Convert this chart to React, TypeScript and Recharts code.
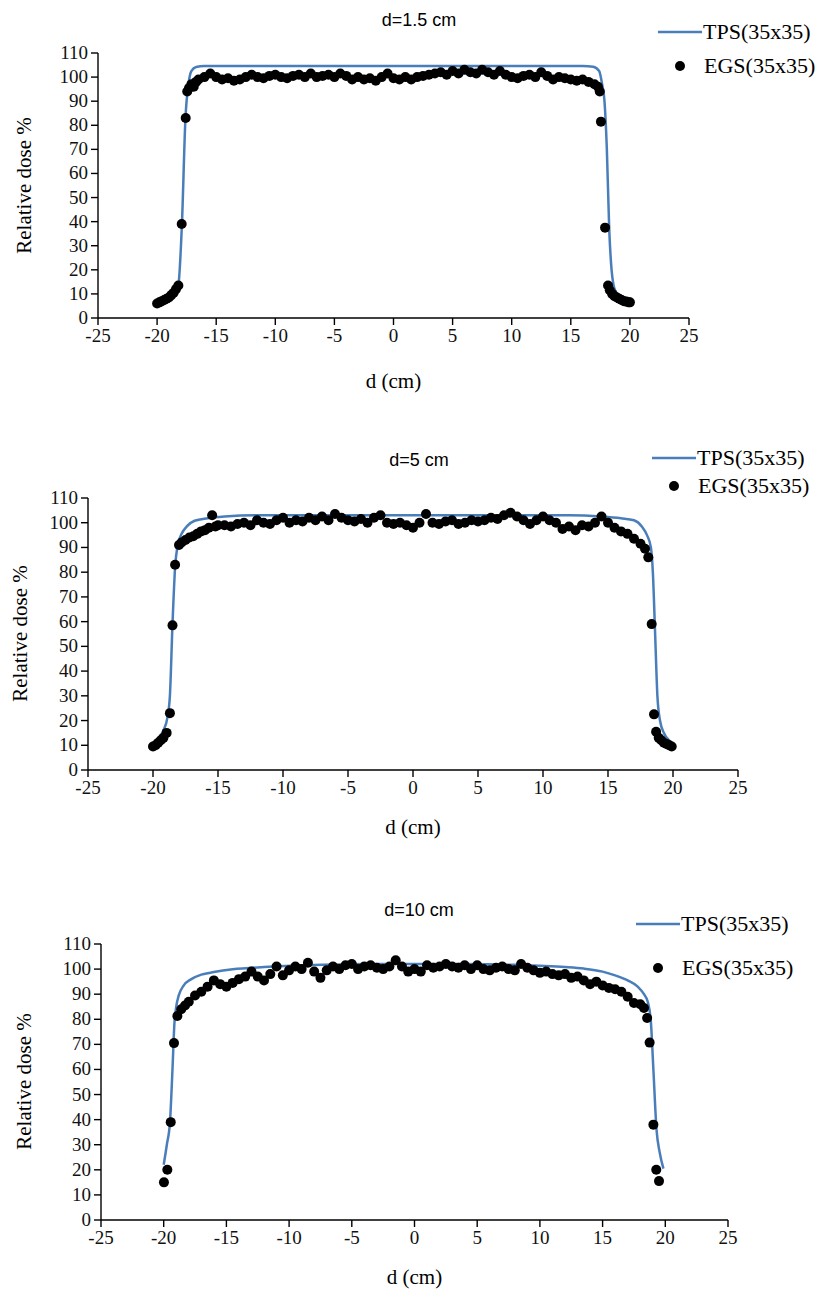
import React from 'react';
import { ComposedChart, Line, Scatter, XAxis, YAxis } from 'recharts';

const xTicks = [-25, -20, -15, -10, -5, 0, 5, 10, 15, 20, 25];
const yTicks = [0, 10, 20, 30, 40, 50, 60, 70, 80, 90, 100, 110];

// d = 1.5 cm
const tps15: [number, number][] = [
  [-18.8, 9.5], [-18.5, 11.5], [-18.2, 14], [-17.9, 39], [-17.6, 83], [-17.35, 97], [-17.1, 102.5],
  [-16.7, 104.2], [-16.0, 104.6], [16.0, 104.6], [16.9, 104.3], [17.4, 102.5], [17.65, 97],
  [17.85, 90], [18.05, 70], [18.25, 37], [18.45, 20], [18.6, 14], [18.8, 11], [19.0, 9.5],
];
const egs15: [number, number][] = [
  [-20.0, 6], [-19.8, 6.5], [-19.6, 7], [-19.4, 7.5], [-19.2, 8], [-19.0, 8.5], [-18.8, 9.5],
  [-18.6, 10.5], [-18.4, 12], [-18.2, 13.5], [-17.92, 39], [-17.58, 83], [-17.45, 94], [-17.3, 95.5],
  [-17.1, 97], [-16.9, 96], [-16.7, 98], [-16.5, 99], [-16, 100], [-15.5, 101.5], [-15, 100],
  [-14.5, 99], [-14, 99.5], [-13.5, 98.5], [-13, 99], [-12.5, 100], [-12, 101], [-11.5, 100],
  [-11, 99.5], [-10.5, 100.5], [-10, 101], [-9.5, 100], [-9, 99.5], [-8.5, 100.5], [-8, 101],
  [-7.5, 100], [-7, 101.5], [-6.5, 100], [-6, 100.5], [-5.5, 101], [-5, 100], [-4.5, 101.5],
  [-4, 100.5], [-3.5, 99], [-3, 100], [-2.5, 99], [-2, 99.5], [-1.5, 98.5], [-1, 100], [-0.5, 101.5],
  [0, 99.5], [0.5, 99], [1, 100], [1.5, 99], [2, 100], [2.5, 100.5], [3, 101], [3.5, 101.5],
  [4, 102], [4.5, 101], [5, 102.5], [5.5, 101.5], [6, 103], [6.5, 102], [7, 101.5], [7.5, 103],
  [8, 102], [8.5, 101], [9, 102.5], [9.5, 101], [10, 100], [10.5, 99.5], [11, 100.5], [11.5, 101],
  [12, 100], [12.5, 102], [13, 100.5], [13.5, 99], [14, 100], [14.5, 99.5], [15, 99], [15.5, 98.5],
  [16, 99], [16.5, 98], [17, 97], [17.3, 96], [17.45, 94], [17.55, 81.5], [17.9, 37.5], [18.15, 13.5],
  [18.3, 11.5], [18.5, 10], [18.7, 9], [18.9, 8.5], [19.1, 8], [19.3, 7.5], [19.5, 7], [19.7, 6.8],
  [19.9, 6.5], [20.0, 6.5],
];

// d = 5 cm
const tps5: [number, number][] = [
  [-20.0, 10.5], [-19.6, 12.5], [-19.2, 16], [-18.9, 21], [-18.7, 30], [-18.5, 59], [-18.3, 82],
  [-18.1, 91], [-17.8, 95.5], [-17.4, 98.5], [-16.8, 100.8], [-15.8, 101.8], [-14.5, 102.5],
  [-12, 103], [12, 103], [14.5, 102.5], [16.0, 101.8], [17.0, 101], [17.6, 98.5], [18.0, 95],
  [18.3, 90], [18.45, 80], [18.6, 59], [18.8, 30], [19.0, 20], [19.3, 15], [19.7, 12], [20.0, 10.8],
];
const egs5: [number, number][] = [
  [-20.0, 9.5], [-19.8, 10], [-19.6, 11], [-19.4, 12], [-19.2, 13], [-18.95, 15], [-18.7, 23],
  [-18.5, 58.5], [-18.3, 83], [-18.0, 91], [-17.8, 92], [-17.5, 93], [-17.2, 94], [-16.9, 94.5],
  [-16.6, 95.5], [-16.3, 96.5], [-16.0, 97], [-15.7, 98], [-15.45, 103], [-15.2, 98.5], [-15, 99],
  [-14.5, 99], [-14, 98.5], [-13.5, 99.5], [-13, 100], [-12.5, 99], [-12, 101], [-11.5, 100],
  [-11, 99.5], [-10.5, 101], [-10, 102], [-9.5, 100], [-9, 101], [-8.5, 100.5], [-8, 102],
  [-7.5, 101], [-7, 102.5], [-6.5, 101], [-6, 103.5], [-5.5, 102], [-5, 101], [-4.5, 100.5],
  [-4, 101.5], [-3.5, 100], [-3, 102], [-2.5, 103], [-2, 100], [-1.5, 99.5], [-1, 100], [-0.5, 99],
  [0, 98], [0.5, 100], [1, 103.5], [1.5, 100], [2, 99.5], [2.5, 100.5], [3, 101], [3.5, 99.5],
  [4, 100], [4.5, 101], [5, 100.5], [5.5, 101], [6, 102], [6.5, 101.5], [7, 103], [7.5, 104],
  [8, 102.5], [8.5, 101], [9, 99.5], [9.5, 101], [10, 102.5], [10.5, 101], [11, 100], [11.5, 97.5],
  [12, 98.5], [12.5, 97], [13, 99], [13.5, 98.5], [14, 100], [14.5, 102.5], [15, 100], [15.5, 98],
  [16, 96.5], [16.5, 95.5], [17, 93.5], [17.5, 91.5], [17.85, 89.5], [18.1, 86], [18.36, 59],
  [18.54, 22.5], [18.7, 15.5], [18.9, 13], [19.1, 12], [19.3, 11], [19.5, 10.5], [19.7, 10],
  [19.9, 9.5],
];

// d = 10 cm
const tps10: [number, number][] = [
  [-20.0, 22], [-19.75, 30], [-19.5, 39], [-19.3, 60], [-19.15, 78], [-19.0, 85], [-18.8, 89.5],
  [-18.4, 93.5], [-17.8, 96], [-17, 97.8], [-16, 98.8], [-14.5, 99.9], [-12, 100.8], [-8, 101.6],
  [-4, 102], [0, 102], [4, 102], [8, 101.7], [10, 101.3], [12, 100.8], [13.5, 100.2], [15, 99],
  [16, 97.5], [17, 95.5], [17.8, 93], [18.3, 90], [18.6, 87], [18.85, 79], [19.05, 60], [19.3, 36],
  [19.55, 27], [19.85, 20.5],
];
const egs10: [number, number][] = [
  [-19.98, 15], [-19.71, 20], [-19.44, 39], [-19.18, 70.5], [-18.91, 81.3], [-18.6, 84],
  [-18.3, 85.5], [-18, 87], [-17.5, 89.5], [-17, 91], [-16.5, 93], [-16, 95.5], [-15.5, 94],
  [-15, 93], [-14.5, 94.5], [-14, 96], [-13.5, 97], [-13, 99], [-12.5, 97], [-12, 95.5],
  [-11.5, 98], [-11, 101], [-10.5, 97.5], [-10, 99.5], [-9.5, 101], [-9, 100], [-8.5, 102.5],
  [-8, 99], [-7.5, 96.5], [-7, 99.5], [-6.5, 101], [-6, 100], [-5.5, 101.5], [-5, 102], [-4.5, 100],
  [-4, 101], [-3.5, 101.5], [-3, 100.5], [-2.5, 100], [-2, 101], [-1.5, 103.5], [-1, 101],
  [-0.5, 99], [0, 100], [0.5, 99], [1, 101.5], [1.5, 100.5], [2, 101], [2.5, 102], [3, 101],
  [3.5, 100.5], [4, 101.5], [4.5, 100], [5, 101.5], [5.5, 100], [6, 99.5], [6.5, 100.5], [7, 101],
  [7.5, 100], [8, 99.5], [8.5, 102], [9, 100.5], [9.5, 99.5], [10, 98.5], [10.5, 99], [11, 98],
  [11.5, 97.5], [12, 98], [12.5, 96.5], [13, 97], [13.5, 95.5], [14, 94], [14.5, 95], [15, 93.5],
  [15.5, 92.5], [16, 92], [16.5, 91], [17, 89], [17.5, 86.5], [18, 86], [18.3, 84.5], [18.55, 80.5],
  [18.75, 70.7], [19.05, 38], [19.28, 20], [19.5, 15.5],
];

const BLUE = '#4a7ebb';
const serif = '"Liberation Serif", "Times New Roman", serif';

const toRows = (pts: [number, number][]) => pts.map(([x, y]) => ({ x, y }));

const Dot = (p: any) => <circle cx={p.cx} cy={p.cy} r={5} fill="#000" />;

const XTick = (p: any) => (
  <text x={p.x} y={p.y + 15} textAnchor="middle" fontFamily={serif} fontSize={19} fill="#111">
    {p.payload.value}
  </text>
);
const YTick = (p: any) => (
  <text x={p.x - 1} y={p.y + 6} textAnchor="end" fontFamily={serif} fontSize={19} fill="#111">
    {p.payload.value}
  </text>
);

type PanelProps = {
  title: string;
  top: number;
  height: number;
  left: number;
  right: number;
  plotTop: number;
  plotBottom: number;
  tps: [number, number][];
  egs: [number, number][];
  legendLeft: number;
  legendTop: number;
  legendGap: number;
  yLabelX: number;
  xLabelY: number;
};

function LegendBox({ gap }: { gap: number }) {
  return (
    <div style={{ fontFamily: serif, fontSize: 22, color: '#000', lineHeight: '24px' }}>
      <div style={{ display: 'flex', alignItems: 'center' }}>
        <svg width={44} height={10}>
          <line x1={0} y1={5} x2={44} y2={5} stroke={BLUE} strokeWidth={2.5} />
        </svg>
        <span style={{ marginLeft: 1 }}>TPS(35x35)</span>
      </div>
      <div style={{ display: 'flex', alignItems: 'center', marginTop: gap }}>
        <svg width={44} height={12}>
          <circle cx={22} cy={6} r={5} fill="#000" />
        </svg>
        <span style={{ marginLeft: 2 }}>EGS(35x35)</span>
      </div>
    </div>
  );
}

function Panel(p: PanelProps) {
  const yAxisW = 60;
  const xAxisH = 40;
  const plotCenterX = (p.left + 829 - p.right) / 2;
  return (
    <div style={{ position: 'absolute', left: 0, top: p.top, width: 829, height: p.height, fontFamily: serif }}>
      <ComposedChart
        width={829}
        height={p.height}
        margin={{
          top: p.plotTop,
          bottom: p.height - p.plotBottom - xAxisH,
          left: p.left - yAxisW,
          right: p.right,
        }}
      >
        <XAxis
          type="number"
          dataKey="x"
          domain={[-25, 25]}
          ticks={xTicks}
          interval={0}
          height={xAxisH}
          tickSize={7}
          allowDataOverflow
          stroke="#000"
          strokeWidth={1.4}
          tick={<XTick />}
        />
        <YAxis
          type="number"
          dataKey="y"
          domain={[0, 110]}
          ticks={yTicks}
          interval={0}
          width={yAxisW}
          tickSize={7}
          allowDataOverflow
          stroke="#000"
          strokeWidth={1.4}
          tick={<YTick />}
        />
        <Line
          data={toRows(p.tps)}
          dataKey="y"
          type="monotone"
          stroke={BLUE}
          strokeWidth={2.5}
          dot={false}
          isAnimationActive={false}
        />
        <Scatter data={toRows(p.egs)} dataKey="y" fill="#000" shape={Dot} isAnimationActive={false} />
      </ComposedChart>
      <div style={{ position: 'absolute', left: p.legendLeft, top: p.legendTop - p.top }}>
        <LegendBox gap={p.legendGap} />
      </div>
      <div
        style={{
          position: 'absolute',
          left: 419 - 100,
          width: 200,
          top: 10,
          textAlign: 'center',
          fontFamily: '"Liberation Sans Narrow", "Liberation Sans", sans-serif',
          fontSize: 18,
        }}
      >
        {p.title}
      </div>
      <div
        style={{
          position: 'absolute',
          left: plotCenterX - 100,
          width: 200,
          top: p.xLabelY - p.top - 13,
          textAlign: 'center',
          fontFamily: serif,
          fontSize: 21,
        }}
      >
        d (cm)
      </div>
      <div
        style={{
          position: 'absolute',
          left: p.yLabelX - 100,
          top: (p.plotTop + p.plotBottom) / 2 - 13,
          width: 200,
          textAlign: 'center',
          transform: 'rotate(-90deg)',
          fontFamily: serif,
          fontSize: 21,
        }}
      >
        Relative dose %
      </div>
    </div>
  );
}

export default function App() {
  return (
    <div style={{ position: 'absolute', left: 0, top: 0, width: 829, height: 1298, background: '#fff' }}>
      <Panel
        title="d=1.5 cm"
        top={0}
        height={400}
        left={98}
        right={829 - 689}
        plotTop={53}
        plotBottom={318}
        tps={tps15}
        egs={egs15}
        legendLeft={658}
        legendTop={20}
        legendGap={10}
        yLabelX={24}
        xLabelY={382}
      />
      <Panel
        title="d=5 cm"
        top={440}
        height={410}
        left={88}
        right={829 - 738}
        plotTop={58}
        plotBottom={330}
        tps={tps5}
        egs={egs5}
        legendLeft={652}
        legendTop={446}
        legendGap={4}
        yLabelX={20}
        xLabelY={828}
      />
      <Panel
        title="d=10 cm"
        top={890}
        height={408}
        left={101}
        right={829 - 728}
        plotTop={54}
        plotBottom={330}
        tps={tps10}
        egs={egs10}
        legendLeft={636}
        legendTop={912}
        legendGap={20}
        yLabelX={24}
        xLabelY={1278}
      />
    </div>
  );
}
